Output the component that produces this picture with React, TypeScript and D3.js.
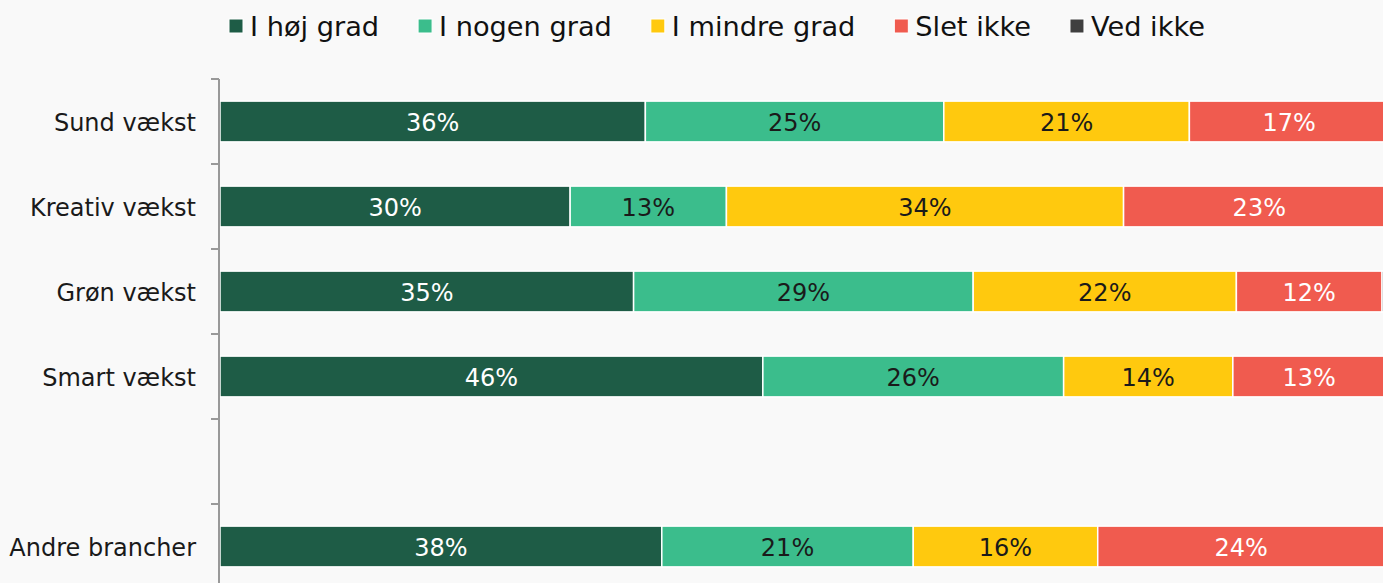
import React, { useEffect, useRef } from "react";
import * as d3 from "d3";

const categories = ["Sund vækst", "Kreativ vækst", "Grøn vækst", "Smart vækst", " ", "Andre brancher"];
const series = ["I høj grad", "I nogen grad", "I mindre grad", "Slet ikke", "Ved ikke"];
const colors = ["#1e5c46", "#3bbd8c", "#ffc90e", "#f05b4f", "#3f3f3f"];
const textColors = ["#ffffff", "#1a1a1a", "#1a1a1a", "#ffffff", "#ffffff"];

// percentages per series, in category order (blank row has no data)
const hoejGrad = [36.2, 29.8, 35.2, 46.2, null, 37.6];
const nogenGrad = [25.4, 13.3, 28.9, 25.6, null, 21.4];
const mindreGrad = [20.9, 33.8, 22.4, 14.4, null, 15.7];
const sletIkke = [17.0, 23.1, 12.4, 13.0, null, 24.4];
const vedIkke = [0.5, 0, 1.1, 0.8, null, 0.9];

export default function App() {
    const ref = useRef<SVGSVGElement>(null);

    useEffect(() => {
        const width = 1383, height = 583;
        const svg = d3.select(ref.current);
        svg.selectAll("*").remove();
        svg.attr("width", width).attr("height", height);

        svg.append("rect").attr("width", width).attr("height", height).attr("fill", "#f9f9f9");

        const x = d3.scaleLinear().domain([0, 100]).range([220, 1395]);
        const y = d3.scaleBand<string>()
            .domain(categories)
            .range([79, 589])
            .paddingInner(0.52)
            .paddingOuter(0.26);

        const rows = categories.map((c, i) => ({
            cat: c,
            vals: [hoejGrad[i], nogenGrad[i], mindreGrad[i], sletIkke[i], vedIkke[i]],
        })).filter(r => r.vals[0] !== null);

        const segs: any[] = [];
        rows.forEach(r => {
            let acc = 0;
            r.vals.forEach((v, j) => {
                const val = v as number;
                segs.push({ cat: r.cat, s: j, x0: acc, x1: acc + val, v: val });
                acc += val;
            });
        });

        const bars = svg.append("g");
        bars.selectAll("rect")
            .data(segs.filter(d => d.v > 0))
            .enter()
            .append("rect")
            .attr("x", d => x(d.x0))
            .attr("y", d => y(d.cat)!)
            .attr("width", d => x(d.x1) - x(d.x0))
            .attr("height", y.bandwidth())
            .attr("fill", d => colors[d.s])
            .attr("stroke", "#ffffff")
            .attr("stroke-width", 1.5);

        bars.selectAll("text")
            .data(segs.filter(d => d.v >= 3))
            .enter()
            .append("text")
            .attr("x", d => (x(d.x0) + x(d.x1)) / 2)
            .attr("y", d => y(d.cat)! + y.bandwidth() / 2)
            .attr("dy", "0.38em")
            .attr("text-anchor", "middle")
            .attr("font-family", "DejaVu Sans")
            .attr("font-size", 24)
            .attr("fill", d => textColors[d.s])
            .text(d => Math.round(d.v) + "%");

        // category axis
        const step = y.step();
        const axis = svg.append("g");
        axis.append("line")
            .attr("x1", 219).attr("x2", 219)
            .attr("y1", y(categories[0])! - step * 0.26).attr("y2", height)
            .attr("stroke", "#999").attr("stroke-width", 2);
        const tickYs = categories.map(c => y(c)! - step * 0.26);
        axis.selectAll("line.tick")
            .data(tickYs)
            .enter()
            .append("line")
            .attr("class", "tick")
            .attr("x1", 211).attr("x2", 219)
            .attr("y1", d => d).attr("y2", d => d)
            .attr("stroke", "#999").attr("stroke-width", 2);
        axis.selectAll("text")
            .data(categories)
            .enter()
            .append("text")
            .attr("x", 196)
            .attr("y", d => y(d)! + y.bandwidth() / 2)
            .attr("dy", "0.38em")
            .attr("text-anchor", "end")
            .attr("font-family", "DejaVu Sans")
            .attr("font-size", 24)
            .attr("fill", "#1a1a1a")
            .text(d => d.trim());

        // legend
        const legend = svg.append("g");
        let lx = 229;
        series.forEach((s, i) => {
            const g = legend.append("g").attr("transform", `translate(${lx},0)`);
            g.append("rect")
                .attr("x", 0).attr("y", 19)
                .attr("width", 14).attr("height", 14)
                .attr("fill", colors[i])
                .attr("stroke", "#fff").attr("stroke-width", 1);
            const t = g.append("text")
                .attr("x", 21).attr("y", 26)
                .attr("dy", "0.38em")
                .attr("font-family", "DejaVu Sans")
                .attr("font-size", 27.2)
                .attr("fill", "#111")
                .text(s);
            const w = (t.node() as SVGTextElement).getComputedTextLength();
            lx += 21 + w + 39;
        });
    }, []);

    return (
        <div style={{ position: "absolute", left: 0, top: 0 }}>
            <svg ref={ref} style={{ display: "block" }}></svg>
        </div>
    );
}
